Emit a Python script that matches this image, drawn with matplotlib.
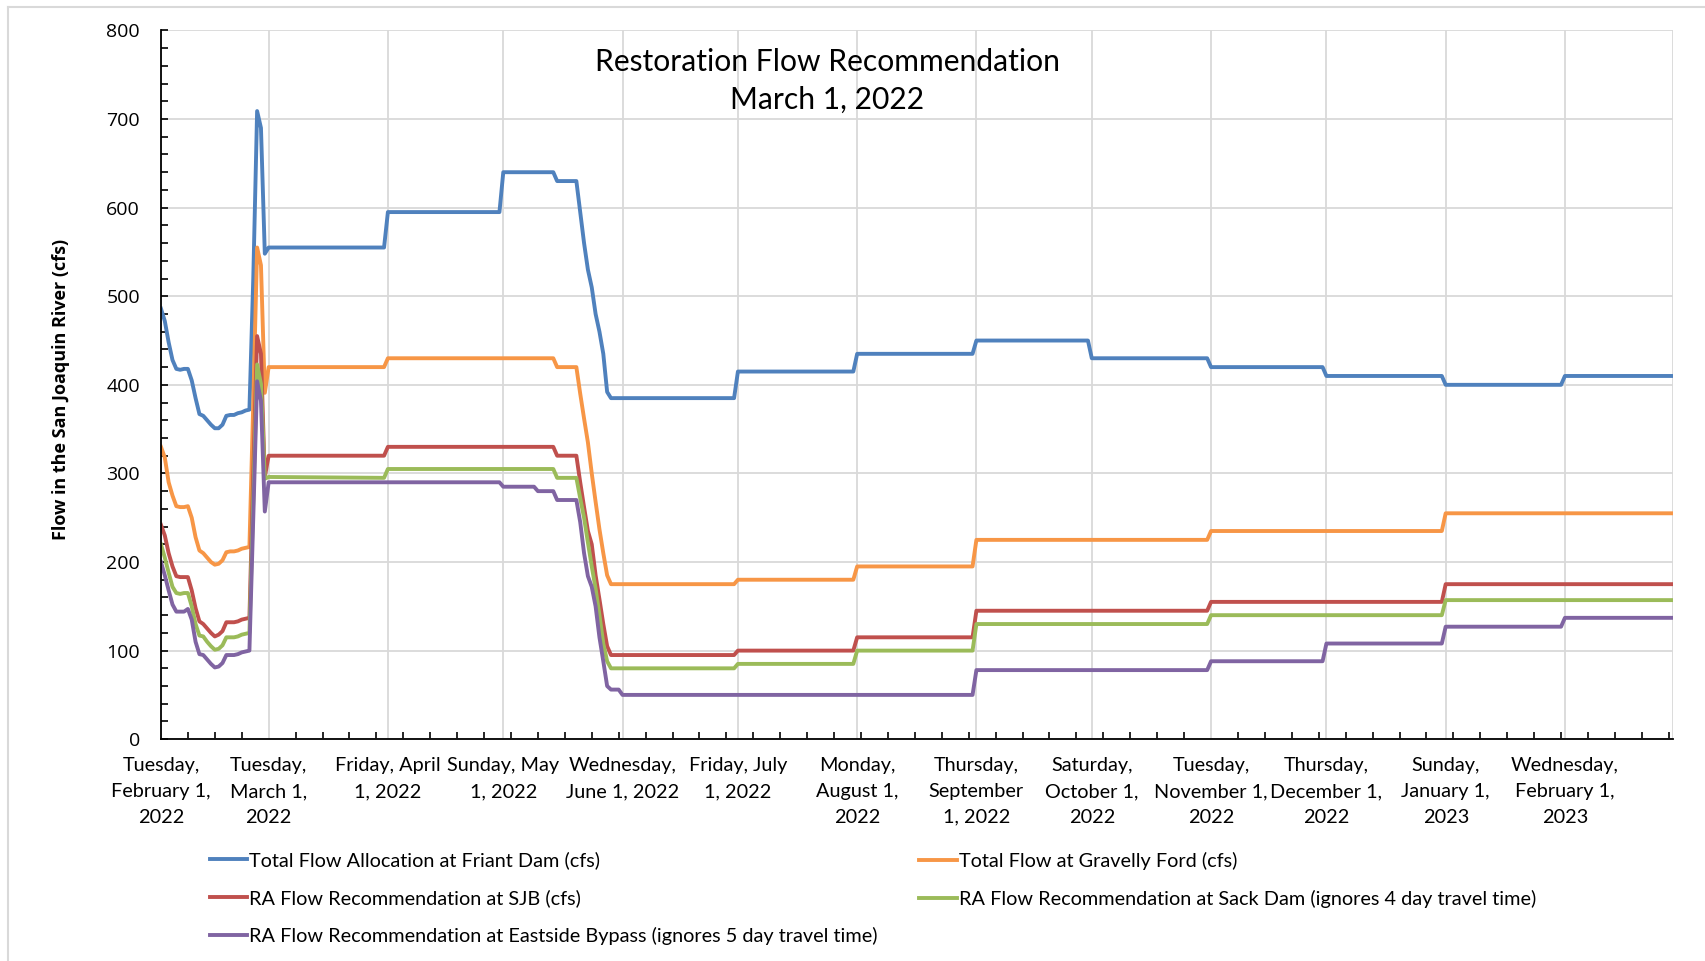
import numpy as np
import matplotlib.pyplot as plt
from matplotlib.lines import Line2D

# dias contados desde el 1 de febrero de 2022
start = np.datetime64('2022-02-01')

early_days = list(range(29))

friant_early = [486, 472, 448, 428, 418, 417, 418, 418, 405, 385, 367, 365, 360, 355, 351,
                351, 355, 365, 366, 366, 368, 369, 371, 372, 520, 709, 690, 548, 555]
gravelly_early = [330, 318, 290, 275, 263, 262, 262, 263, 250, 228, 213, 210, 205, 200, 197,
                  198, 202, 211, 212, 212, 213, 215, 216, 217, 380, 555, 535, 391, 420]
sjb_early = [242, 230, 210, 195, 184, 183, 183, 183, 168, 148, 133, 130, 125, 120, 116,
             118, 122, 132, 132, 132, 133, 135, 136, 137, 300, 455, 435, 296, 320]
sack_early = [220, 205, 188, 172, 165, 164, 165, 165, 150, 130, 117, 116, 110, 105, 101,
              102, 106, 115, 115, 115, 116, 118, 119, 120, 270, 423, 401, 294, 296]
eastside_early = [200, 185, 168, 152, 144, 144, 144, 147, 135, 110, 96, 95, 90, 85, 81,
                  82, 86, 95, 95, 95, 96, 98, 99, 100, 250, 404, 382, 257, 290]

# resto del periodo: (dia, valor)
friant_days = [58, 59, 88, 89, 102, 103, 108, 109, 110, 111, 112, 113, 114, 115, 116, 117,
               149, 150, 180, 181, 211, 212, 241, 242, 272, 273, 302, 303, 333, 334, 364, 365, 393]
friant_vals = [555, 595, 595, 640, 640, 630, 630, 595, 560, 530, 510, 480, 460, 435, 392, 385,
               385, 415, 415, 435, 435, 450, 450, 430, 430, 420, 420, 410, 410, 400, 400, 410, 410]

gravelly_days = [58, 59, 102, 103, 108, 109, 110, 111, 112, 113, 114, 115, 116, 117,
                 149, 150, 180, 181, 211, 212, 272, 273, 333, 334, 393]
gravelly_vals = [420, 430, 430, 420, 420, 390, 362, 335, 300, 268, 237, 210, 185, 175,
                 175, 180, 180, 195, 195, 225, 225, 235, 235, 255, 255]

sjb_days = [58, 59, 102, 103, 108, 109, 110, 111, 112, 113, 114, 115, 116, 117,
            149, 150, 180, 181, 211, 212, 272, 273, 333, 334, 393]
sjb_vals = [320, 330, 330, 320, 320, 290, 262, 235, 220, 185, 158, 130, 105, 95,
            95, 100, 100, 115, 115, 145, 145, 155, 155, 175, 175]

sack_days = [58, 59, 102, 103, 108, 109, 110, 111, 112, 113, 114, 115, 116, 117,
             149, 150, 180, 181, 211, 212, 272, 273, 333, 334, 393]
sack_vals = [295, 305, 305, 295, 295, 272, 250, 222, 195, 170, 140, 108, 88, 80,
             80, 85, 85, 100, 100, 130, 130, 140, 140, 157, 157]

eastside_days = [88, 89, 97, 98, 102, 103, 108, 109, 110, 111, 112, 113, 114, 115, 116, 117,
                 119, 120, 211, 212, 272, 273, 302, 303, 333, 334, 364, 365, 393]
eastside_vals = [290, 285, 285, 280, 280, 270, 270, 245, 210, 184, 172, 150, 115, 88, 60, 56,
                 56, 50, 50, 78, 78, 88, 88, 108, 108, 127, 127, 137, 137]

series = [
    ("Total Flow Allocation at Friant Dam (cfs)", friant_early, friant_days, friant_vals, '#4F81BD'),
    ("Total Flow at Gravelly Ford (cfs)", gravelly_early, gravelly_days, gravelly_vals, '#F79646'),
    ("RA Flow Recommendation at SJB (cfs)", sjb_early, sjb_days, sjb_vals, '#C0504D'),
    ("RA Flow Recommendation at Sack Dam (ignores 4 day travel time)", sack_early, sack_days, sack_vals, '#9BBB59'),
    ("RA Flow Recommendation at Eastside Bypass (ignores 5 day travel time)", eastside_early, eastside_days, eastside_vals, '#8064A2'),
]

month_labels = ["Tuesday,\nFebruary 1,\n2022", "Tuesday,\nMarch 1,\n2022", "Friday, April\n1, 2022",
                "Sunday, May\n1, 2022", "Wednesday,\nJune 1, 2022", "Friday, July\n1, 2022",
                "Monday,\nAugust 1,\n2022", "Thursday,\nSeptember\n1, 2022", "Saturday,\nOctober 1,\n2022",
                "Tuesday,\nNovember 1,\n2022", "Thursday,\nDecember 1,\n2022", "Sunday,\nJanuary 1,\n2023",
                "Wednesday,\nFebruary 1,\n2023", ""]

fig = plt.figure(figsize=(17.05, 9.61), dpi=100)
ax = fig.add_axes([0.0944, 0.2308, 0.9866 - 0.0944 - 0.0056, 0.9683 - 0.2308])

handles = []
for name, early, days, vals, col in series:
    d = np.array(early_days + days)
    v = np.array(early + vals)
    h, = ax.plot(start + d.astype('timedelta64[D]'), v, color=col, lw=2.8, label=name,
                 solid_joinstyle='round')
    handles.append(h)

months = np.arange(np.datetime64('2022-02'), np.datetime64('2023-04'), dtype='datetime64[M]').astype('datetime64[D]')
ax.set_xticks(months)
ax.set_xticklabels(month_labels, fontsize=14.3, family='Lato', linespacing=1.62)
weeks = start + np.arange(0, 394, 7).astype('timedelta64[D]')
ax.set_xticks(weeks, minor=True)
ax.set_xlim(start, np.datetime64('2023-03-01'))

ax.set_ylim(0, 800)
ax.set_yticks(np.arange(0, 801, 100))
ax.set_yticks(np.arange(0, 801, 20), minor=True)
for t in ax.get_yticklabels():
    t.set_family('Open Sans')
    t.set_fontsize(14)

ax.tick_params(axis='x', which='major', length=0, pad=13, colors='#000000')
ax.tick_params(axis='x', which='minor', direction='in', length=5, width=1.2)
ax.tick_params(axis='y', which='both', direction='in', length=5, width=1.2, pad=15)
ax.grid(which='major', color='#d9d9d9', lw=1.3)
ax.set_axisbelow(True)
ax.spines['top'].set_visible(False)
ax.spines['right'].set_visible(False)
ax.spines['left'].set_linewidth(1.3)
ax.spines['bottom'].set_linewidth(1.3)

fig.text(0.0355, 0.595, "Flow in the San Joaquin River (cfs)", rotation=90, ha='center', va='center',
         fontsize=13, fontweight='bold', family='Open Sans')
fig.text(0.4853, 0.916, "Restoration Flow Recommendation\nMarch 1, 2022", ha='center', va='center',
         fontsize=21.6, family='Lato', linespacing=1.45)

leg_kw = dict(frameon=False, handlelength=1.9, handletextpad=0.1, labelspacing=1.0,
              borderpad=0, borderaxespad=0, loc='center left', prop={'family': 'Lato', 'size': 14.3})
fig.legend([handles[0], handles[2], handles[4]], [s[0] for s in (series[0], series[2], series[4])],
           bbox_to_anchor=(0.123, 0.0656), **leg_kw)
fig.legend([handles[1], handles[3]], [series[1][0], series[3][0]],
           bbox_to_anchor=(0.539, 0.0848), **leg_kw)

# borde del grafico
fig.add_artist(Line2D([0.0044, 0.0044], [0, 0.9927], transform=fig.transFigure, color='#d9d9d9', lw=1.5))
fig.add_artist(Line2D([0.0044, 1], [0.9927, 0.9927], transform=fig.transFigure, color='#d9d9d9', lw=1.5))

plt.savefig('out.png', dpi=100)
